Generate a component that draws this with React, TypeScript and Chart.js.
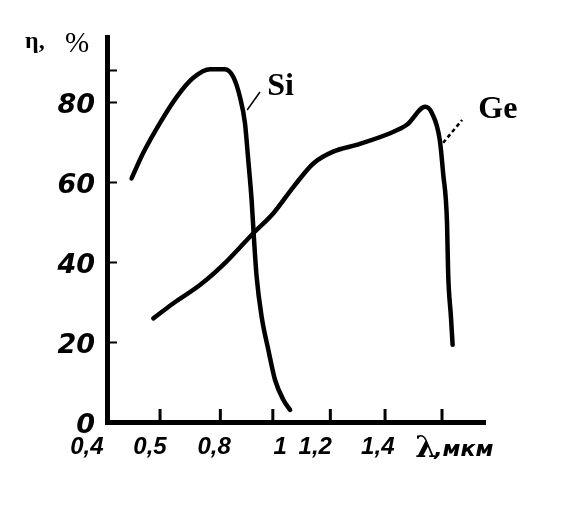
import React, { useEffect, useRef } from 'react';
import { Chart, registerables } from 'chart.js';

Chart.register(...registerables);

// x values are in axis divisions (0 = origin "0,4", tick marks at roughly 1..6)
const siX = [0.44, 0.65, 0.95, 1.25, 1.54, 1.85, 2.11, 2.26, 2.38, 2.47, 2.53, 2.59, 2.63, 2.68, 2.77, 2.89, 3.01, 3.16, 3.28];
const siY = [60.9, 67.3, 74.8, 81.3, 86.0, 88.2, 88.2, 86.3, 81.3, 74.8, 65.5, 55.5, 46.3, 36.3, 26.3, 18.0, 10.5, 5.5, 3.0];

const geX = [0.83, 1.19, 1.67, 2.14, 2.62, 2.98, 3.34, 3.70, 4.05, 4.47, 5.07, 5.37, 5.70, 5.82, 5.96, 6.02, 6.09, 6.11, 6.16, 6.19];
const geY = [25.9, 29.7, 34.3, 40.1, 47.2, 52.2, 58.8, 64.7, 67.6, 69.3, 72.2, 74.3, 78.8, 77.2, 70.5, 62.2, 49.7, 37.2, 26.3, 19.3];

const yTickValues = [0, 20, 40, 60, 80];
const yExtraTickMarks = [88];
const xTickMarks = [0.95, 2.03, 2.97, 4.0, 4.98, 6.0];
const xTickLabels = ['0,4', '0,5', '0,8', '1', '1,2', '1,4'];
const xLabelPositions = [-0.36, 0.77, 1.92, 3.1, 3.73, 4.85];

const xMin = 0;
const xMax = 6.77;
const yMin = 0;
const yMax = 96.25;

const siLabel = 'Si';
const geLabel = 'Ge';
const siLabelPos = { x: 2.87, y: 81.75 };
const geLabelPos = { x: 6.65, y: 76 };
const siLeader = [{ x: 2.51, y: 78 }, { x: 2.74, y: 82.5 }];
const geLeader = [{ x: 6.02, y: 69.8 }, { x: 6.36, y: 75.5 }];

const axesPlugin = {
  id: 'handAxes',
  afterDraw(chart: any) {
    const ctx = chart.ctx;
    const xs = chart.scales.x;
    const ys = chart.scales.y;
    const { left, bottom, top } = chart.chartArea;
    ctx.save();
    ctx.strokeStyle = '#000';
    ctx.fillStyle = '#000';

    // y tick marks (inward)
    ctx.lineWidth = 2;
    [...yTickValues.slice(1), ...yExtraTickMarks].forEach((v) => {
      const py = Math.round(ys.getPixelForValue(v)) + 0.5;
      ctx.beginPath();
      ctx.moveTo(left + 2, py);
      ctx.lineTo(left + 10, py);
      ctx.stroke();
    });

    // x tick marks (inward)
    ctx.lineWidth = 3;
    xTickMarks.forEach((v) => {
      const px = xs.getPixelForValue(v);
      ctx.beginPath();
      ctx.moveTo(px, bottom - 2);
      ctx.lineTo(px, bottom - 13);
      ctx.stroke();
    });

    // x labels
    ctx.font = 'italic bold 24px "Liberation Sans"';
    ctx.textAlign = 'center';
    ctx.textBaseline = 'alphabetic';
    xTickLabels.forEach((t, i) => {
      ctx.fillText(t, xs.getPixelForValue(xLabelPositions[i]), bottom + 32);
    });

    // x axis title
    ctx.textAlign = 'left';
    const lx = xs.getPixelForValue(5.52);
    ctx.font = 'bold 30px "DejaVu Serif"';
    ctx.fillText('λ', lx, bottom + 35);
    const lw = ctx.measureText('λ').width;
    ctx.font = 'italic bold 22px "DejaVu Sans"';
    ctx.fillText(',мкм', lx + lw - 2, bottom + 34);

    // y axis title
    ctx.font = 'bold 24px "Liberation Serif"';
    ctx.fillText('η,', left - 82, top + 11);
    ctx.font = '29px "Liberation Serif"';
    ctx.fillText('%', left - 42, top + 15);

    // curve labels
    ctx.font = 'bold 32px "Liberation Serif"';
    ctx.fillText(siLabel, xs.getPixelForValue(siLabelPos.x), ys.getPixelForValue(siLabelPos.y));
    ctx.fillText(geLabel, xs.getPixelForValue(geLabelPos.x), ys.getPixelForValue(geLabelPos.y));

    // leaders
    ctx.lineWidth = 1.5;
    ctx.beginPath();
    ctx.moveTo(xs.getPixelForValue(siLeader[0].x), ys.getPixelForValue(siLeader[0].y));
    ctx.lineTo(xs.getPixelForValue(siLeader[1].x), ys.getPixelForValue(siLeader[1].y));
    ctx.stroke();
    ctx.lineWidth = 2.5;
    ctx.setLineDash([4, 3]);
    ctx.beginPath();
    ctx.moveTo(xs.getPixelForValue(geLeader[0].x), ys.getPixelForValue(geLeader[0].y));
    ctx.lineTo(xs.getPixelForValue(geLeader[1].x), ys.getPixelForValue(geLeader[1].y));
    ctx.stroke();
    ctx.restore();
  },
};

export default function App() {
  const ref = useRef<HTMLCanvasElement | null>(null);
  useEffect(() => {
    if (!ref.current) return;
    const chart = new Chart(ref.current, {
      type: 'line',
      data: {
        datasets: [
          {
            label: siLabel,
            data: siX.map((x, i) => ({ x, y: siY[i] })),
            borderColor: '#000',
            borderWidth: 4.5,
            pointRadius: 0,
            cubicInterpolationMode: 'monotone',
            borderCapStyle: 'round',
            fill: false,
          },
          {
            label: geLabel,
            data: geX.map((x, i) => ({ x, y: geY[i] })),
            borderColor: '#000',
            borderWidth: 4.5,
            pointRadius: 0,
            cubicInterpolationMode: 'monotone',
            borderCapStyle: 'round',
            fill: false,
          },
        ],
      },
      options: {
        animation: false,
        responsive: true,
        maintainAspectRatio: false,
        layout: { padding: { top: 29, right: 82, left: 0, bottom: 0 } },
        plugins: { legend: { display: false }, tooltip: { enabled: false }, title: { display: false } },
        scales: {
          x: {
            type: 'linear',
            min: xMin,
            max: xMax,
            grid: { display: false, drawTicks: false },
            border: { display: true, width: 5, color: '#000' },
            ticks: { display: false },
            afterFit: (s: any) => {
              s.height = 76;
            },
          },
          y: {
            type: 'linear',
            min: yMin,
            max: yMax,
            grid: { display: false, drawTicks: false },
            border: { display: true, width: 5, color: '#000' },
            afterBuildTicks: (s: any) => {
              s.ticks = yTickValues.map((v) => ({ value: v }));
            },
            ticks: {
              color: '#000',
              padding: 12,
              labelOffset: 4,
              font: { family: 'DejaVu Sans', size: 27, weight: 'bold', style: 'italic' },
              callback: (v: any) => String(v),
            },
            afterFit: (s: any) => {
              s.width = 99;
            },
          },
        },
      },
      plugins: [axesPlugin],
    } as any);
    return () => chart.destroy();
  }, []);
  return (
    <div style={{ width: 559, height: 490, position: 'relative' }}>
      <canvas ref={ref} />
    </div>
  );
}
